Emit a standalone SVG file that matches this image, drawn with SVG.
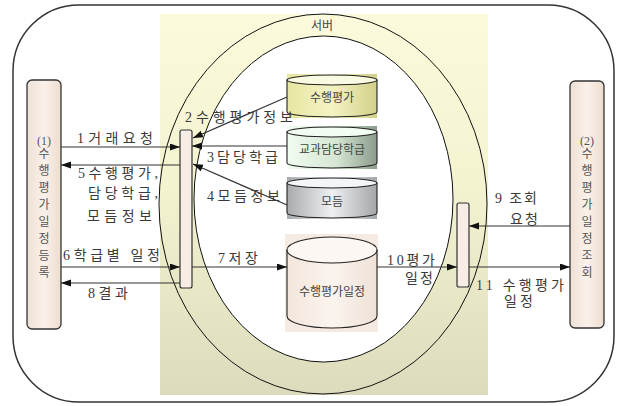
<svg xmlns="http://www.w3.org/2000/svg" width="622" height="406" viewBox="0 0 622 406">
<defs>
  <linearGradient id="gBand" x1="0" y1="0" x2="0" y2="1">
    <stop offset="0" stop-color="#fbfbdc"/>
    <stop offset="0.45" stop-color="#f3f3d0"/>
    <stop offset="1" stop-color="#dcdcbd"/>
  </linearGradient>
  <linearGradient id="gNode" x1="0" y1="0" x2="1" y2="0">
    <stop offset="0" stop-color="#efe0d4"/>
    <stop offset="0.5" stop-color="#faf1ea"/>
    <stop offset="1" stop-color="#eddccf"/>
  </linearGradient>
  <linearGradient id="gY" x1="0" y1="0" x2="1" y2="0">
    <stop offset="0" stop-color="#e8e6a2"/>
    <stop offset="0.5" stop-color="#f4f3c4"/>
    <stop offset="1" stop-color="#d2d088"/>
  </linearGradient>
  <linearGradient id="gG" x1="0" y1="0" x2="1" y2="0">
    <stop offset="0" stop-color="#f0fcf0"/>
    <stop offset="0.55" stop-color="#d6e6d4"/>
    <stop offset="1" stop-color="#8c9c8a"/>
  </linearGradient>
  <linearGradient id="gS" x1="0" y1="0" x2="1" y2="0">
    <stop offset="0" stop-color="#a8acaf"/>
    <stop offset="0.5" stop-color="#eef0f2"/>
    <stop offset="1" stop-color="#a3a7aa"/>
  </linearGradient>
  <linearGradient id="gP" x1="0" y1="0" x2="1" y2="0">
    <stop offset="0" stop-color="#f3e6dc"/>
    <stop offset="0.5" stop-color="#fbf4ee"/>
    <stop offset="1" stop-color="#efe1d6"/>
  </linearGradient>
  <marker id="ah" markerWidth="11" markerHeight="8" refX="10" refY="3.5" orient="auto" markerUnits="userSpaceOnUse">
    <path d="M0,0 L10,3.5 L0,7 z" fill="#111"/>
  </marker>
  <style>
    .frame{fill:#fff;stroke:#333;stroke-width:1.5}
    .ell{fill:none;stroke:#111;stroke-width:1}
    .node{fill:url(#gNode);stroke:#333;stroke-width:1.3}
    .bar{fill:#f8ede5;stroke:#333;stroke-width:1.2}
    .cyl{stroke:#222;stroke-width:1.1}
    .lbl{font-family:"Liberation Serif","Noto Sans CJK KR",serif;font-size:14px;fill:#3a3a3a}
    .ntx{font-family:"Liberation Serif","Noto Sans CJK KR",serif;font-size:12px;fill:#555;text-anchor:middle}
    .ctx{font-family:"Liberation Serif","Noto Sans CJK KR",serif;font-size:12px;fill:#444;text-anchor:middle}
    .con line{stroke:#333;stroke-width:1.2;marker-end:url(#ah)}
  </style>
</defs>

<g id="frame">
  <rect class="frame" x="13" y="5" width="601" height="397" rx="66" ry="66"/>
</g>

<g id="server">
  <rect x="160" y="14" width="328" height="381" fill="url(#gBand)"/>
  <ellipse class="ell" cx="323" cy="204" rx="164" ry="190"/>
  <ellipse cx="323.5" cy="199" rx="129.5" ry="163" fill="#fff" stroke="#111" stroke-width="1"/>
  <text class="ctx" x="322" y="30">서버</text>
</g>

<g id="node1">
  <rect class="node" x="27" y="80" width="34" height="249" rx="5" ry="5"/>
  <text class="ntx"><tspan x="44" y="145">(1)</tspan><tspan x="44" y="158">수</tspan><tspan x="44" y="175">행</tspan><tspan x="44" y="192">평</tspan><tspan x="44" y="209">가</tspan><tspan x="44" y="226">일</tspan><tspan x="44" y="243">정</tspan><tspan x="44" y="260">등</tspan><tspan x="44" y="277">록</tspan></text>
</g>

<g id="node2">
  <rect class="node" x="570" y="81" width="34" height="247" rx="5" ry="5"/>
  <text class="ntx"><tspan x="587" y="145">(2)</tspan><tspan x="587" y="158">수</tspan><tspan x="587" y="175">행</tspan><tspan x="587" y="192">평</tspan><tspan x="587" y="209">가</tspan><tspan x="587" y="226">일</tspan><tspan x="587" y="243">정</tspan><tspan x="587" y="260">조</tspan><tspan x="587" y="277">회</tspan></text>
</g>

<g id="bar1">
  <rect class="bar" x="180" y="130" width="12" height="158" rx="2"/>
</g>
<g id="bar2">
  <rect class="bar" x="457" y="203" width="12" height="84" rx="2"/>
</g>

<g id="db1">
  <rect x="287" y="74" width="90" height="44" fill="url(#gY)"/>
  <path class="cyl" fill="url(#gY)" d="M287,80 L287,112 A45,5 0 0 0 377,112 L377,80 Z"/>
  <ellipse class="cyl" cx="332" cy="80" rx="45" ry="5" fill="#fafae2"/>
  <text class="ctx" x="332" y="102">수행평가</text>
</g>

<g id="db2">
  <rect x="287" y="126" width="90" height="43" fill="url(#gG)"/>
  <path class="cyl" fill="url(#gG)" d="M287,132 L287,163 A45,5 0 0 0 377,163 L377,132 Z"/>
  <ellipse class="cyl" cx="332" cy="132" rx="45" ry="5" fill="#f2fcf2"/>
  <text class="ctx" x="332" y="154">교과담당학급</text>
</g>

<g id="db3">
  <rect x="287" y="177" width="90" height="42" fill="url(#gS)"/>
  <path class="cyl" fill="url(#gS)" d="M287,183 L287,213 A45,5 0 0 0 377,213 L377,183 Z"/>
  <ellipse class="cyl" cx="332" cy="183" rx="45" ry="5" fill="#f4f5f6"/>
  <text class="ctx" x="332" y="206">모듬</text>
</g>

<g id="db4">
  <rect x="285" y="234" width="93" height="98" fill="#f6ebe2"/>
  <path class="cyl" fill="url(#gP)" d="M287,250 L287,316 A45,12 0 0 0 377,316 L377,250 Z"/>
  <ellipse class="cyl" cx="332" cy="250" rx="45" ry="13" fill="#fcf7f2"/>
  <text class="ctx" x="332" y="296">수행평가일정</text>
</g>

<g id="connectors" class="con">
  <line x1="61" y1="147" x2="180" y2="147"/>
  <line x1="180" y1="165" x2="61" y2="165"/>
  <line x1="61" y1="267" x2="180" y2="267"/>
  <line x1="180" y1="283" x2="61" y2="283"/>
  <line x1="192" y1="267" x2="287" y2="267"/>
  <line x1="287" y1="97" x2="193" y2="138"/>
  <line x1="287" y1="146" x2="192" y2="146"/>
  <line x1="287" y1="205" x2="193" y2="164"/>
  <line x1="570" y1="226" x2="469" y2="226"/>
  <line x1="377" y1="267" x2="457" y2="267"/>
  <line x1="469" y1="267" x2="570" y2="267"/>
</g>

<g id="labels">
  <text class="lbl" x="77" y="143" textLength="76" lengthAdjust="spacing">1거래요청</text>
  <text class="lbl" x="78" y="178" textLength="80" lengthAdjust="spacing">5수행평가,</text>
  <text class="lbl" x="88" y="198" textLength="70" lengthAdjust="spacing">담당학급,</text>
  <text class="lbl" x="87" y="221" textLength="65" lengthAdjust="spacing">모듬정보</text>
  <text class="lbl" x="63" y="260" textLength="97" lengthAdjust="spacing">6학급별 일정</text>
  <text class="lbl" x="88" y="298" textLength="40" lengthAdjust="spacing">8결과</text>
  <text class="lbl" x="218" y="263" textLength="40" lengthAdjust="spacing">7저장</text>
  <text class="lbl" x="185" y="122" textLength="108" lengthAdjust="spacing">2수행평가정보</text>
  <text class="lbl" x="207" y="162" textLength="71" lengthAdjust="spacing">3담당학급</text>
  <text class="lbl" x="207" y="201" textLength="73" lengthAdjust="spacing">4모듬정보</text>
  <text class="lbl" x="495" y="203" textLength="42" lengthAdjust="spacing">9 조회</text>
  <text class="lbl" x="510" y="224" textLength="28" lengthAdjust="spacing">요청</text>
  <text class="lbl" x="387" y="265" textLength="48" lengthAdjust="spacing">10평가</text>
  <text class="lbl" x="405" y="283" textLength="28" lengthAdjust="spacing">일정</text>
  <text class="lbl" x="476" y="290" textLength="88" lengthAdjust="spacing">11 수행평가</text>
  <text class="lbl" x="504" y="306" textLength="29" lengthAdjust="spacing">일정</text>
</g>
</svg>
